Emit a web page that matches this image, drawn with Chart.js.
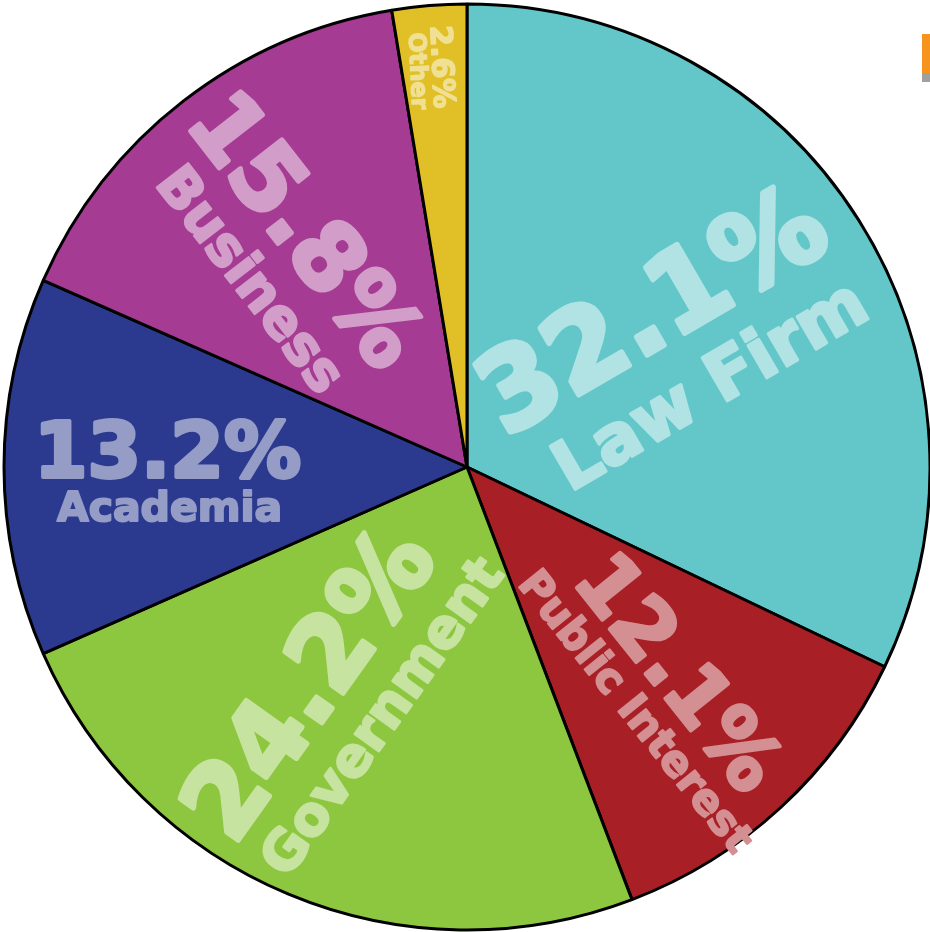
<!DOCTYPE html>
<html>
<head>
<meta charset="utf-8">
<script src="https://cdn.jsdelivr.net/npm/chart.js@4.4.1/dist/chart.umd.min.js"></script>
<style>
  html, body { margin: 0; padding: 0; background: #fff; }
  #wrap { position: relative; width: 930px; height: 932px; overflow: hidden; }
  #tab { position: absolute; left: 922px; top: 34px; width: 10px; height: 39px; background: #f7941d; }
  #tabShadow { position: absolute; left: 922px; top: 73px; width: 10px; height: 9px; background: #a0a0a0; }
</style>
</head>
<body>
<div id="wrap">
  <canvas id="pieChart" width="930" height="932"></canvas>
  <div id="tab"></div>
  <div id="tabShadow"></div>
</div>
<script>
// Data
const categories = ['Law Firm', 'Public Interest', 'Government', 'Academia', 'Business', 'Other'];
const shares = [32.1, 12.1, 24.2, 13.2, 15.8, 2.6];
const sliceColors = ['#63c7c9', '#a81f25', '#8dc63f', '#2b3a8f', '#a53b92', '#e1c027'];

// Label styling per slice: font sizes, rotation tweak (deg),
// and [radius, angle offset in deg] from the slice centre line
const labelStyle = [
  { pct: 110, name: 68, rot: 2,    pctPos: [243, -9],   namePos: [256, 13] },
  { pct: 80,  name: 42, rot: 4,    pctPos: [295, -3.7], namePos: [297, 7.7] },
  { pct: 102, name: 54, rot: 12.8, pctPos: [268, 14.3], namePos: [263, -3.4] },
  { pct: 77,  name: 41, rot: 0,    pctPos: [300, 3.4],  namePos: [300, -7.5] },
  { pct: 92,  name: 54, rot: 0,    pctPos: [287, 4.2],  namePos: [286, -10.9] },
  { pct: 30,  name: 24, rot: 2,    pctPos: [401, 1.3],  namePos: [399, -2.2] }
];

const deg = Math.PI / 180;

// 50% white over the slice colour, drawn opaque so fill + stroke don't stack
function tint(hex) {
  const n = parseInt(hex.slice(1), 16);
  const r = Math.round(((n >> 16) & 255) * 0.5 + 127.5);
  const g = Math.round(((n >> 8) & 255) * 0.5 + 127.5);
  const b = Math.round((n & 255) * 0.5 + 127.5);
  return 'rgb(' + r + ',' + g + ',' + b + ')';
}

// draws the rotated percent + category text inside each slice
const sliceLabels = {
  id: 'sliceLabels',
  afterDatasetsDraw(chart) {
    const ctx = chart.ctx;
    const arcs = chart.getDatasetMeta(0).data;
    arcs.forEach((arc, i) => {
      const { x, y, startAngle, endAngle } = arc.getProps(['x', 'y', 'startAngle', 'endAngle'], true);
      const mid = (startAngle + endAngle) / 2;
      const st = labelStyle[i];
      // keep text upright on the left half
      let rot = Math.cos(mid) < 0 ? mid - Math.PI : mid;
      rot += st.rot * deg;
      const col = tint(sliceColors[i]);

      const lines = [
        { text: shares[i].toFixed(1) + '%', size: st.pct, pos: st.pctPos },
        { text: categories[i], size: st.name, pos: st.namePos }
      ];
      lines.forEach(line => {
        const a = mid + line.pos[1] * deg;
        const px = x + line.pos[0] * Math.cos(a);
        const py = y + line.pos[0] * Math.sin(a);
        ctx.save();
        ctx.translate(px, py);
        ctx.rotate(rot);
        ctx.font = 'bold ' + line.size + 'px "DejaVu Sans"';
        ctx.fillStyle = col;
        ctx.strokeStyle = col;
        ctx.lineWidth = line.size * 0.05;
        ctx.lineJoin = 'round';
        ctx.textAlign = 'center';
        ctx.textBaseline = 'alphabetic';
        ctx.strokeText(line.text, 0, line.size * 0.365);
        ctx.fillText(line.text, 0, line.size * 0.365);
        ctx.restore();
      });
    });
  }
};

const ctx = document.getElementById('pieChart');
new Chart(ctx, {
  type: 'pie',
  data: {
    labels: categories,
    datasets: [{
      data: shares,
      backgroundColor: sliceColors,
      borderColor: '#000',
      borderWidth: 3
    }]
  },
  options: {
    responsive: false,
    animation: false,
    radius: 463,
    layout: { padding: { left: 4, right: 0, top: 2, bottom: 0 } },
    plugins: {
      legend: { display: false },
      tooltip: { enabled: false }
    }
  },
  plugins: [sliceLabels]
});
</script>
</body>
</html>
